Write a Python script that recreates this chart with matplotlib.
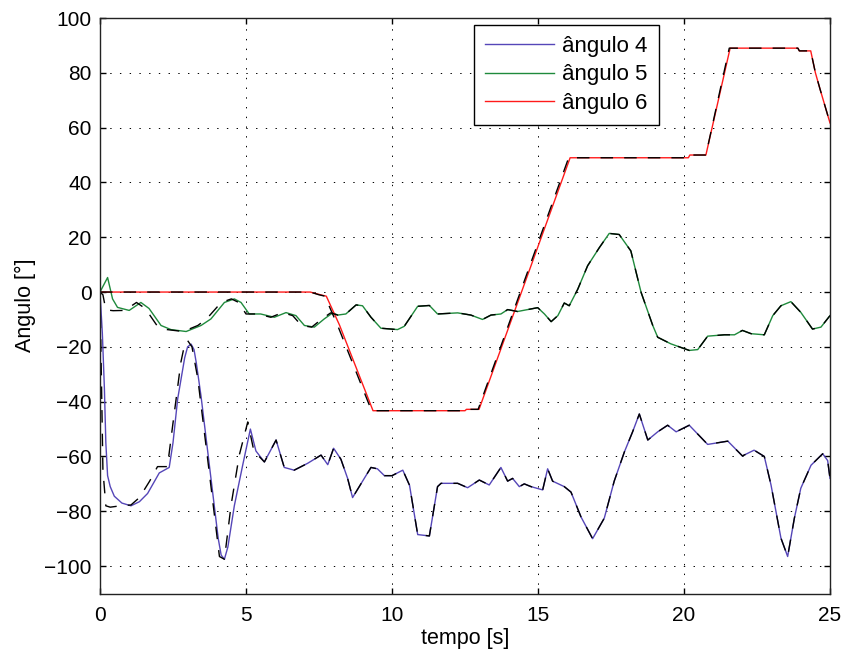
import matplotlib
matplotlib.use("Agg")
import matplotlib.pyplot as plt

plt.rcParams['font.family'] = ['Liberation Sans', 'DejaVu Sans']
plt.rcParams['lines.scale_dashes'] = False

# angulo 4 (measured)
ang4_t = [0, 0.08, 0.15, 0.2, 0.26, 0.35, 0.49, 0.75, 1.06, 1.35, 1.63, 2.03, 2.37, 2.5,
          2.66, 2.9, 3.0, 3.12, 3.22, 3.3, 3.46, 3.8, 4.05, 4.15, 4.26, 4.38, 4.6, 4.89,
          5.15, 5.34, 5.63, 6.03, 6.31, 6.65,
          7.11, 7.57, 7.8, 8.0, 8.25, 8.48, 8.65, 9.05, 9.28, 9.5, 9.74, 10.0, 10.37, 10.6,
          10.88, 11.28, 11.56, 11.68, 12.25, 12.59, 12.99, 13.33, 13.73, 13.96, 14.13, 14.36,
          14.53, 14.76, 15.16, 15.33, 15.5, 15.9, 16.13, 16.47, 16.87, 17.27, 17.61, 17.96,
          18.24, 18.47, 18.76, 19.1, 19.44, 19.73, 20.18, 20.81, 21.5, 22.0, 22.4, 22.75,
          22.98, 23.32, 23.55, 23.78, 24.0, 24.35, 24.75, 24.92, 25.0]
ang4_v = [0, -15, -35, -55, -67, -71, -74.5, -77, -78, -76.5, -73.5, -66, -64, -55,
          -39, -24, -20, -19, -21, -26, -38, -68, -90, -96, -97.5, -93, -78, -63,
          -50, -58, -62, -54, -64, -65,
          -62.5, -59.5, -63, -57, -61, -68, -75, -68, -64, -64.5, -67, -67, -65, -70.5,
          -88.5, -89, -71, -69.8, -69.8, -71.4, -68.6, -70.4, -64, -69, -68, -71,
          -70, -71, -72.2, -64.5, -69, -71, -73, -82, -90, -82.5, -69, -58.3,
          -51, -44.5, -54, -51, -48.6, -51, -48.6, -55.6, -54.4, -59.8, -57.7, -60,
          -70.4, -89.8, -96.5, -82.5, -71.6, -63.2, -59, -61.5, -68]

# referencia angulo 4 (dashed), leads the measured curve at the start
ref4_t = [0, 0.1, 0.2, 0.35, 0.7, 1.06, 1.35, 1.7, 1.97, 2.31, 2.49, 2.77, 2.9, 3.0, 3.15,
          3.35, 3.74, 4.09, 4.26, 4.49, 4.77, 5.06, 5.27] + ang4_t[30:]
ref4_v = [0, -65, -78, -78.5, -78, -77.7, -75, -69, -63.7, -63.7, -48.6, -25.6, -19, -17.7, -20,
          -31.6, -65.6, -96.5, -97.5, -77.7, -59.5, -47.4, -58] + ang4_v[30:]

# angulo 5 (measured)
ang5_t = [0, 0.26, 0.43, 0.6, 1.0, 1.4, 1.68, 2.09, 2.43, 2.95, 3.46, 3.8, 4.26, 4.6,
          4.83, 5.11, 5.5, 5.97, 6.37, 6.71, 7.0, 7.34, 7.68, 7.97, 8.14, 8.42, 8.77, 8.99,
          9.28, 9.62, 10.19, 10.42, 10.88, 11.28, 11.56, 12.25, 12.7, 13.1, 13.39, 13.73,
          13.96, 14.3, 14.99, 15.22, 15.45, 15.68, 15.9, 16.07, 16.36, 16.7, 17.1, 17.44,
          17.78, 18.18, 18.53, 18.93, 19.1, 19.55, 20.18, 20.47, 20.81, 21.38, 21.73, 22.0,
          22.3, 22.75, 23.04, 23.32, 23.66, 24.0, 24.4, 24.69, 25.0]
ang5_v = [0, 5.3, -2.5, -5.6, -6.7, -3.8, -6, -12.2, -13.7, -14.4, -12.2, -9.8, -3.8, -2.5,
          -3.8, -8, -8, -9.2, -7.5, -8.6, -12.2, -12.8, -9.8, -7.6, -8.4, -8, -4.7, -5,
          -9.2, -13.2, -13.7, -12.5, -5.2, -4.9, -8, -7.6, -8.4, -10, -8.4, -8,
          -6.4, -7.1, -5.7, -8, -10.8, -8.6, -4, -5, 1, 9.6, 16.2, 21.4,
          21, 15, -0.1, -12.2, -16.5, -18.9, -21.3, -21, -16.1, -15.6, -15.6, -14,
          -15.2, -15.6, -8.6, -5, -3.5, -7.4, -13.5, -12.8, -8.6]

# referencia angulo 5 (dashed)
ref5_t = [0, 0.1, 0.2, 0.45, 0.85, 1.25, 1.55, 1.95, 2.3, 2.85, 3.35, 3.65, 4.15, 4.5,
          4.75, 5.0, 5.4, 5.85, 6.25, 6.6, 6.9, 7.25, 7.6, 7.9] + ang5_t[24:]
ref5_v = [0, -1, -6.5, -6.8, -6.7, -3.8, -6, -12.2, -13.7, -14.4, -12.2, -9.8, -3.8, -2.5,
          -3.8, -8, -8, -9.2, -7.5, -8.6, -12.2, -12.8, -9.8, -7.6] + ang5_v[24:]

# angulo 6 (measured)
ang6_t = [0, 7.2, 7.55, 7.75, 8.2, 9.35, 12.5, 12.55, 12.98, 16.1, 20.15, 20.2, 20.75,
          21.58, 23.9, 23.95, 24.34, 24.5, 24.66, 25]
ang6_v = [0, 0, -1, -1.5, -12, -43.3, -43.3, -42.8, -42.8, 49, 49, 50, 50,
          89, 89, 88, 88, 80, 74, 61.7]

# referencia angulo 6 (dashed)
ref6_t = [0, 7.2, 7.5, 7.7, 8.15, 9.3, 12.5, 12.55, 12.95, 16.05, 20.15, 20.2, 20.75,
          21.55, 23.9, 23.95, 24.34, 24.5, 24.66, 25]
ref6_v = [0, 0, -1, -1.5, -12.5, -43.3, -43.3, -42.8, -42.8, 49, 49, 50, 50,
          89, 89, 88, 88, 80, 74, 61.7]

labels = ["ângulo 4", "ângulo 5", "ângulo 6"]
colors = ["#5546b8", "#1f8a3c", "#ff1a1a"]

fig = plt.figure(figsize=(8.45, 6.54), dpi=100)
ax = fig.add_axes([100 / 845, 1 - 593.5 / 654, 730 / 845, 575.5 / 654])

# measured angles
ax.plot(ang4_t, ang4_v, color=colors[0], lw=1.0, label=labels[0])
ax.plot(ang5_t, ang5_v, color=colors[1], lw=1.0, label=labels[1])
ax.plot(ang6_t, ang6_v, color=colors[2], lw=1.0, label=labels[2])

# reference curves, dashed black on top
for rt, rv in [(ref4_t, ref4_v), (ref5_t, ref5_v), (ref6_t, ref6_v)]:
    ax.plot(rt, rv, color="black", lw=1.0, linestyle=(0, (9, 8)))

ax.set_xlim(0, 25)
ax.set_ylim(-110, 100)
ax.set_xticks([0, 5, 10, 15, 20, 25])
ax.set_yticks(range(-100, 101, 20))

ax.grid(True, color="black", linestyle=(0, (1, 6)), linewidth=0.7)
ax.tick_params(direction="in", length=4.5, width=1, top=True, right=True,
               labelsize=15)
ax.tick_params(axis="x", pad=9)
ax.tick_params(axis="y", pad=6)
for s in ax.spines.values():
    s.set_linewidth(1.0)
    s.set_color("#222222")

ax.set_xlabel("tempo [s]", fontsize=15.5, labelpad=2)
ax.set_ylabel("Angulo [°]", fontsize=15.5, labelpad=6)

leg = ax.legend(loc="upper left", bbox_to_anchor=(0.512, 0.988), fontsize=16,
                handlelength=3.1, handletextpad=0.38, labelspacing=0.33,
                borderpad=0.5, borderaxespad=0, fancybox=False, framealpha=1,
                edgecolor="black")
leg.get_frame().set_linewidth(1.0)

fig.savefig("out.png", dpi=100)
